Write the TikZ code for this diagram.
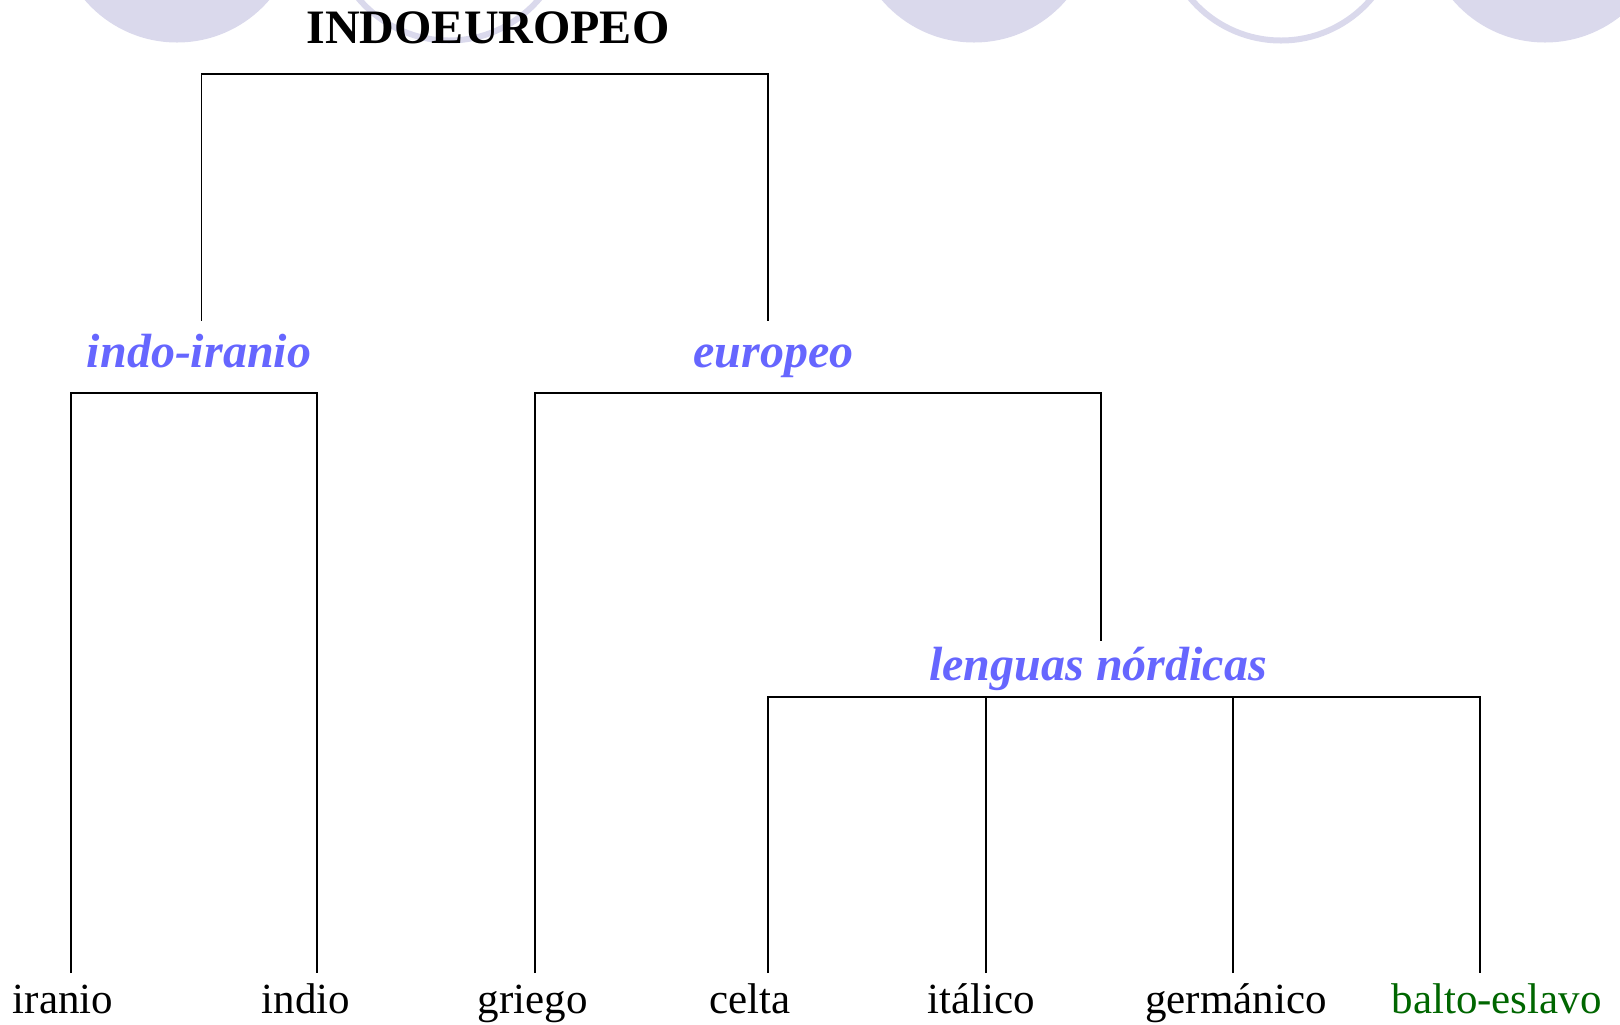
\documentclass[tikz,border=0pt]{standalone}
\usepackage{fontspec}
\setmainfont{Liberation Serif}
\definecolor{lab}{RGB}{102,102,255}
\definecolor{leafgreen}{RGB}{0,102,0}
\definecolor{deco}{RGB}{218,217,236}
\begin{document}
\begin{tikzpicture}[x=0.5pt,y=-0.5pt,
  title/.style={inner sep=0pt, anchor=base, font=\fontsize{24}{28}\selectfont\bfseries},
  group/.style={inner sep=0pt, anchor=base, text=lab, font=\fontsize{24}{28}\selectfont\bfseries\itshape},
  leaf/.style={inner sep=0pt, anchor=base, font=\fontsize{21.5}{26}\selectfont},
  branch/.style={draw=black, line width=0.95pt},
  disc/.style={fill=deco},
  ring/.style={draw=deco, line width=3pt}]
\useasboundingbox (0,0) rectangle (1620,1024);
% decorative circles at the top
\begin{scope}
  \clip (0,0) rectangle (1620,1024);
  \fill[disc] (177,-79) circle[radius=60.75pt];
  \fill[disc] (974,-79) circle[radius=60.75pt];
  \fill[disc] (1545,-79) circle[radius=60.75pt];
  \draw[ring] (449,-78) circle[radius=59.25pt];
  \draw[ring] (1281,-78) circle[radius=59.25pt];
\end{scope}
% texts
\node[title] (root) at (488,43) {INDOEUROPEO};
\node[group] (ii) at (199,367) {indo-iranio};
\node[group] (eu) at (773.5,367) {europeo};
\node[group] (ln) at (1098,680) {lenguas nórdicas};
\node[leaf] (iranio) at (63,1013) {iranio};
\node[leaf] (indio) at (305.8,1013) {indio};
\node[leaf] (griego) at (532.6,1013) {griego};
\node[leaf] (celta) at (750,1013) {celta};
\node[leaf] (italico) at (981,1013) {itálico};
\node[leaf] (germanico) at (1236,1013) {germánico};
\node[leaf, text=leafgreen] (balto) at (1496.6,1013) {balto-eslavo};
% stub end coordinates
\coordinate (iiTop) at (201.5,320.7);
\coordinate (euTop) at (767.7,320.7);
\coordinate (lnTop) at (1101.4,640.6);
\coordinate (iranioTop) at (71.3,973);
\coordinate (indioTop) at (317.2,973);
\coordinate (griegoTop) at (535.2,973);
\coordinate (celtaTop) at (767.7,973);
\coordinate (italicoTop) at (985.7,973);
\coordinate (germanicoTop) at (1232.6,973);
\coordinate (baltoTop) at (1479.6,973);
% brackets
\draw[branch] (iiTop) -- ++(0,-246.3) -| (euTop);
\draw[branch] (iranioTop) -- ++(0,-580.4) -| (indioTop);
\draw[branch] (griegoTop) -- ++(0,-580.4) -| (lnTop);
\draw[branch] (celtaTop) -- ++(0,-275.6) -| (baltoTop);
\draw[branch] (italicoTop) -- ++(0,-275.6);
\draw[branch] (germanicoTop) -- ++(0,-275.6);
\end{tikzpicture}
\end{document}
